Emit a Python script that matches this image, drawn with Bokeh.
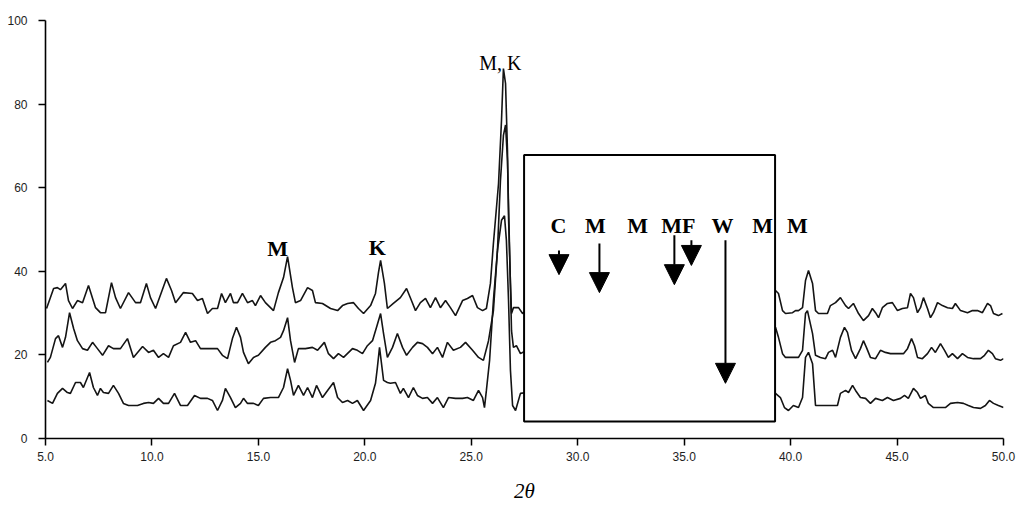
from bokeh.plotting import figure
from bokeh.models import (Range1d, FixedTicker, NumeralTickFormatter, Arrow, NormalHead,
                          ColumnDataSource)
from bokeh.core.properties import value
from bokeh.embed import file_html
from bokeh.resources import INLINE

NAN = float("nan")

# ---- XRD patterns (2-theta, intensity); NAN = hidden under the inset box ----
TOP_X = [5.05, 5.38, 5.56, 5.70, 5.94, 6.08, 6.27, 6.50, 6.74, 7.02,
         7.35, 7.58, 7.82, 8.10, 8.29, 8.52, 8.90, 9.23, 9.46, 9.74,
         9.93, 10.17, 10.68, 10.92, 11.11, 11.48, 11.90, 12.14, 12.37, 12.61,
         12.84, 13.08, 13.27, 13.45, 13.69, 13.83, 14.02, 14.25, 14.49, 14.72,
         14.86, 15.10, 15.33, 15.71, 15.94, 16.18, 16.37, 16.60, 16.74, 16.98,
         17.31, 17.54, 17.68, 18.01, 18.39, 18.72, 18.95, 19.19, 19.47, 19.70,
         19.94, 20.27, 20.50, 20.64, 20.74, 20.92, 21.06, 21.34, 21.67, 21.96,
         22.19, 22.38, 22.61, 22.85, 23.08, 23.32, 23.55, 23.79, 24.02, 24.26,
         24.59, 24.82, 25.06, 25.29, 25.53, 25.71, 25.90, 26.04, 26.28, 26.42,
         26.51, 26.61, 26.70, 26.75, 26.84, 26.89, 26.98, 27.22, 27.41, 27.60,
         NAN,
         39.29, 39.43, 39.62, 39.76, 40.09, 40.23, 40.37, 40.56, 40.70, 40.84,
         41.03, 41.17, 41.31, 41.73, 41.87, 42.11, 42.34, 42.58, 42.72, 42.95,
         43.19, 43.42, 43.66, 43.84, 43.99, 44.13, 44.31, 44.55, 44.78, 45.02,
         45.25, 45.49, 45.63, 45.77, 45.96, 46.10, 46.24, 46.43, 46.57, 46.71,
         46.90, 47.13, 47.37, 47.60, 47.74, 47.98, 48.31, 48.54, 48.78, 49.01,
         49.25, 49.39, 49.53, 49.76, 49.95]
TOP_Y = [31.1, 35.9, 36.1, 35.6, 37.1, 33.0, 31.1, 33.0, 32.5, 36.6,
         31.3, 30.1, 30.1, 37.3, 33.7, 31.1, 34.9, 32.5, 32.5, 37.1,
         33.7, 31.1, 38.3, 35.4, 32.5, 34.9, 34.7, 33.0, 33.5, 29.9,
         31.1, 31.1, 34.7, 32.5, 34.7, 32.5, 32.5, 34.7, 32.5, 33.0,
         31.8, 34.2, 32.5, 30.6, 34.9, 38.5, 43.5, 36.1, 32.5, 33.0,
         36.1, 35.4, 32.5, 32.3, 31.1, 30.6, 31.8, 32.3, 32.5, 31.1,
         29.9, 31.8, 34.7, 39.7, 42.6, 37.1, 31.1, 32.3, 33.7, 35.9,
         33.0, 30.6, 32.5, 33.5, 31.3, 33.7, 31.3, 33.0, 31.3, 29.4,
         33.0, 33.5, 34.2, 31.3, 30.6, 31.1, 37.1, 46.7, 61.0, 76.1,
         88.5, 84.9, 68.9, 52.9, 37.1, 29.9, 31.3, 31.3, 29.9, 30.6,
         NAN,
         35.4, 34.7, 30.6, 29.9, 30.1, 30.6, 30.6, 31.3, 37.8, 40.2,
         37.1, 30.6, 29.9, 29.9, 31.8, 32.5, 33.7, 31.8, 31.1, 32.3,
         29.9, 28.2, 29.4, 31.1, 30.1, 28.9, 31.3, 32.3, 32.5, 30.6,
         31.1, 31.3, 34.7, 33.7, 30.1, 31.3, 33.7, 31.1, 28.9, 30.1,
         32.5, 31.8, 31.3, 31.1, 32.3, 30.6, 30.1, 30.6, 30.6, 30.1,
         32.3, 31.8, 29.9, 29.4, 29.9]

MID_X = [5.09, 5.23, 5.47, 5.61, 5.80, 5.94, 6.13, 6.32, 6.50, 6.74,
         6.97, 7.21, 7.44, 7.68, 7.96, 8.19, 8.52, 8.85, 9.13, 9.56,
         9.84, 10.07, 10.31, 10.54, 10.78, 11.01, 11.34, 11.58, 11.81, 12.05,
         12.28, 12.61, 12.84, 13.08, 13.31, 13.55, 13.78, 13.97, 14.16, 14.30,
         14.53, 14.77, 15.00, 15.33, 15.57, 15.80, 16.04, 16.18, 16.37, 16.51,
         16.70, 16.88, 17.21, 17.54, 17.78, 18.10, 18.29, 18.53, 18.76, 19.00,
         19.42, 19.65, 19.89, 20.12, 20.36, 20.55, 20.74, 20.88, 21.06, 21.30,
         21.53, 21.77, 21.96, 22.24, 22.47, 22.71, 22.94, 23.18, 23.41, 23.65,
         23.88, 24.16, 24.49, 24.73, 25.06, 25.34, 25.57, 25.81, 26.04, 26.23,
         26.37, 26.51, 26.61, 26.70, 26.80, 26.89, 26.98, 27.12, 27.31, 27.60,
         NAN,
         39.29, 39.43, 39.62, 39.76, 40.13, 40.37, 40.56, 40.70, 40.79, 41.03,
         41.17, 41.40, 41.64, 41.78, 41.97, 42.11, 42.34, 42.53, 42.67, 42.86,
         43.05, 43.28, 43.42, 43.56, 43.75, 43.99, 44.22, 44.45, 44.69, 45.02,
         45.30, 45.49, 45.68, 45.82, 45.96, 46.19, 46.43, 46.62, 46.80, 47.04,
         47.23, 47.41, 47.60, 47.84, 48.07, 48.31, 48.59, 48.92, 49.11, 49.29,
         49.48, 49.62, 49.86, 50.00]
MID_Y = [18.2, 19.4, 23.9, 24.6, 21.8, 24.2, 30.1, 26.3, 23.4, 21.5,
         21.1, 23.0, 21.5, 19.9, 22.2, 21.5, 21.5, 23.9, 19.4, 22.0,
         20.6, 21.1, 19.4, 20.3, 19.4, 22.2, 23.0, 25.4, 23.0, 23.4,
         21.5, 21.5, 21.5, 21.5, 19.9, 19.1, 23.9, 26.6, 24.2, 20.6,
         17.9, 19.4, 19.9, 21.8, 23.0, 23.4, 24.2, 25.8, 28.9, 23.4,
         18.2, 21.5, 21.5, 21.8, 21.1, 23.0, 20.3, 19.1, 20.3, 19.4,
         21.5, 21.1, 20.3, 22.2, 23.4, 26.6, 29.9, 25.1, 19.4, 21.8,
         25.1, 21.8, 19.9, 21.8, 23.0, 22.7, 21.8, 20.3, 21.8, 19.4,
         23.0, 21.1, 21.8, 23.0, 21.1, 19.4, 18.7, 23.4, 30.6, 45.0,
         61.7, 72.5, 75.0, 66.5, 45.0, 25.8, 21.8, 22.2, 20.3, 21.1,
         NAN,
         26.6, 24.2, 20.3, 19.4, 19.4, 19.4, 21.1, 29.9, 30.6, 25.1,
         19.9, 19.4, 19.1, 20.6, 21.1, 19.4, 24.2, 26.6, 25.4, 21.1,
         19.1, 21.5, 23.4, 21.8, 19.4, 19.1, 21.1, 20.6, 20.3, 20.3,
         20.3, 21.5, 23.9, 22.2, 19.4, 19.1, 20.3, 21.8, 20.6, 22.7,
         21.1, 19.4, 20.3, 19.1, 20.3, 19.4, 19.1, 19.1, 19.9, 21.1,
         20.3, 19.1, 18.7, 19.1]

BOT_X = [5.09, 5.33, 5.56, 5.80, 6.03, 6.17, 6.41, 6.64, 6.78, 7.07,
         7.25, 7.44, 7.58, 7.72, 7.96, 8.19, 8.43, 8.66, 8.90, 9.32,
         9.60, 9.84, 10.07, 10.31, 10.54, 10.78, 11.06, 11.34, 11.67, 12.00,
         12.28, 12.61, 12.84, 13.08, 13.31, 13.45, 13.69, 13.92, 14.16, 14.30,
         14.49, 14.77, 15.00, 15.24, 15.57, 15.94, 16.18, 16.37, 16.51, 16.65,
         16.88, 17.12, 17.31, 17.54, 17.73, 18.01, 18.25, 18.53, 18.72, 18.95,
         19.19, 19.42, 19.65, 19.94, 20.27, 20.50, 20.59, 20.69, 20.88, 21.06,
         21.20, 21.44, 21.67, 21.81, 22.05, 22.28, 22.47, 22.71, 22.94, 23.18,
         23.41, 23.69, 23.93, 24.26, 24.59, 24.82, 25.10, 25.34, 25.53, 25.62,
         25.71, 25.86, 26.04, 26.23, 26.42, 26.56, 26.65, 26.75, 26.84, 26.94,
         27.08, 27.31, 27.60,
         NAN,
         39.29, 39.52, 39.71, 39.90, 40.13, 40.37, 40.56, 40.70, 40.84, 41.03,
         41.17, 41.40, 41.73, 42.20, 42.34, 42.58, 42.72, 42.91, 43.05, 43.28,
         43.52, 43.75, 43.99, 44.31, 44.55, 44.83, 45.16, 45.35, 45.53, 45.77,
         45.96, 46.10, 46.33, 46.47, 46.71, 47.04, 47.27, 47.51, 47.84, 48.12,
         48.35, 48.59, 48.92, 49.15, 49.34, 49.53, 49.76, 50.00]
BOT_Y = [9.1, 8.4, 10.8, 12.0, 11.0, 10.8, 13.4, 13.4, 12.2, 15.8,
         12.2, 10.3, 12.0, 11.0, 10.8, 12.7, 10.8, 8.4, 7.9, 7.9,
         8.4, 8.6, 8.4, 9.6, 8.4, 8.4, 10.8, 7.9, 7.9, 10.3,
         9.6, 9.6, 9.1, 6.7, 9.1, 12.0, 9.8, 7.4, 8.4, 9.6,
         8.4, 8.4, 7.9, 9.6, 9.8, 9.8, 12.2, 16.7, 13.9, 10.3,
         12.7, 10.3, 12.2, 9.8, 12.7, 9.8, 11.5, 13.4, 9.8, 8.6,
         9.1, 8.4, 9.1, 6.7, 9.1, 13.2, 17.0, 21.8, 13.9, 13.4,
         13.2, 13.4, 10.8, 12.0, 9.8, 12.2, 10.3, 9.6, 9.8, 8.4,
         9.8, 7.4, 9.8, 9.6, 9.6, 9.8, 9.1, 11.5, 9.8, 7.4,
         11.5, 18.7, 33.0, 45.0, 52.2, 53.3, 47.4, 33.0, 16.3, 7.9,
         6.7, 10.8, 11.0,
         NAN,
         10.8, 9.8, 7.4, 6.7, 7.9, 7.4, 9.8, 19.4, 20.6, 17.9,
         7.9, 7.9, 7.9, 7.9, 10.8, 11.5, 11.0, 12.7, 11.5, 9.8,
         9.6, 8.4, 9.6, 9.1, 9.8, 9.1, 9.6, 10.3, 9.6, 12.0,
         11.0, 9.6, 10.3, 8.4, 7.4, 7.4, 7.4, 8.4, 8.6, 8.4,
         7.9, 7.4, 7.2, 7.9, 9.1, 8.4, 7.9, 7.4]

# ---- axes ----
X_TICKS = [5, 10, 15, 20, 25, 30, 35, 40, 45, 50]
Y_TICKS = [0, 20, 40, 60, 80, 100]
X_TITLE = "2θ"

# ---- inset window (2-theta range, intensity range) ----
INSET_2THETA = [27.48, 39.27]
INSET_INTENSITY = [4.07, 67.8]

# ---- phase labels ----
PEAK_LABELS = ["M", "K", "C", "M", "M", "MF", "W", "M", "M"]
PEAK_LABEL_X = [15.90, 20.59, 29.10, 30.83, 32.81, 34.73, 36.80, 38.68, 40.32]
PEAK_LABEL_Y = [45.45, 45.7, 50.96, 50.96, 50.96, 50.96, 50.96, 50.96, 50.96]
MAIN_LABEL = "M, K"
MAIN_LABEL_X = 26.37
MAIN_LABEL_Y = 89.95

# ---- marker arrows (2-theta, start intensity, tip intensity) ----
ARROW_X = [29.12, 31.02, 34.54, 35.34, 36.94]
ARROW_TOP = [45.0, 46.65, 48.6, 47.4, 47.4]
ARROW_TIP = [39.2, 34.9, 36.8, 41.4, 13.2]

p = figure(width=1017, height=505, x_range=Range1d(5, 50), y_range=Range1d(0, 100),
           output_backend="svg", toolbar_location=None, title=None,
           min_border_left=45, min_border_right=14, min_border_top=20, min_border_bottom=67)
p.grid.visible = False
p.outline_line_color = None
p.background_fill_color = "white"
p.border_fill_color = "white"

LINE_COLOR = "#141414"
for xs, ys in [(TOP_X, TOP_Y), (MID_X, MID_Y), (BOT_X, BOT_Y)]:
    p.line(xs, ys, line_color=LINE_COLOR, line_width=1.6)

p.quad(left=[INSET_2THETA[0]], right=[INSET_2THETA[1]],
       bottom=[INSET_INTENSITY[0]], top=[INSET_INTENSITY[1]],
       fill_color="white", line_color="black", line_width=2)

lab_src = ColumnDataSource(dict(x=PEAK_LABEL_X, y=PEAK_LABEL_Y, text=PEAK_LABELS))
p.text(x="x", y="y", text="text", source=lab_src,
       text_font=value("Liberation Serif"), text_font_style="bold",
       text_font_size="22px", text_align="center", text_baseline="alphabetic",
       text_color="black")
p.text(x=[MAIN_LABEL_X], y=[MAIN_LABEL_Y], text=[MAIN_LABEL],
       text_font=value("Liberation Serif"), text_font_size="20px",
       text_align="center", text_baseline="alphabetic", text_color="black")

for ax_, top_, tip_ in zip(ARROW_X, ARROW_TOP, ARROW_TIP):
    p.add_layout(Arrow(end=NormalHead(size=20, fill_color="black", line_color="black"),
                       x_start=ax_, y_start=top_, x_end=ax_, y_end=tip_,
                       line_width=2, line_color="black"))

xa = p.xaxis[0]
xa.ticker = FixedTicker(ticks=X_TICKS)
xa.formatter = NumeralTickFormatter(format="0.0")
ya = p.yaxis[0]
ya.ticker = FixedTicker(ticks=Y_TICKS)
for ax in (xa, ya):
    ax.axis_line_width = 1.6
    ax.axis_line_color = "black"
    ax.major_tick_line_width = 1.5
    ax.major_tick_line_color = "black"
    ax.major_tick_out = 7
    ax.major_tick_in = 0
    ax.minor_tick_out = 0
    ax.minor_tick_in = 0
    ax.major_label_text_font = "Liberation Sans"
    ax.major_label_text_font_size = "12px"
    ax.major_label_text_color = "#1e1e1e"
xa.major_label_standoff = 6
ya.major_label_standoff = 11

xa.axis_label = X_TITLE
xa.axis_label_text_font = "Liberation Serif"
xa.axis_label_text_font_style = "italic"
xa.axis_label_text_font_size = "21px"
xa.axis_label_text_color = "black"
xa.axis_label_standoff = 15

open("out.html", "w").write(file_html(p, INLINE))
